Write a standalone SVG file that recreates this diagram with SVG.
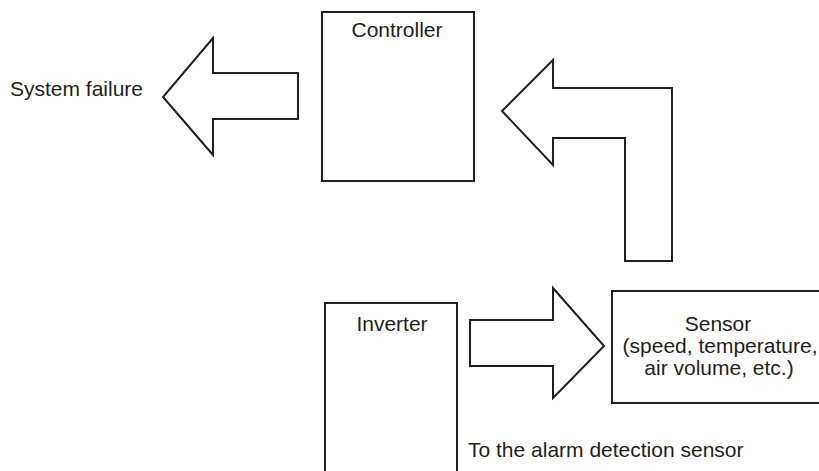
<svg xmlns="http://www.w3.org/2000/svg" width="819" height="471" viewBox="0 0 819 471">
<style>
.box{fill:#fff;stroke:#231f20;stroke-width:2}
.arr{fill:#fff;stroke:#231f20;stroke-width:2;stroke-linejoin:miter}
text{font-family:"Liberation Sans",Arial,sans-serif;font-size:21px;fill:#231f20}
.c{text-anchor:middle}
</style>
<rect width="819" height="471" fill="#fff"/>
<g id="controller">
<rect class="box" x="322" y="12" width="152" height="169"/>
<text class="c" x="397" y="37">Controller</text>
</g>
<g id="inverter">
<rect class="box" x="325" y="303" width="132" height="180"/>
<text class="c" x="392" y="331">Inverter</text>
</g>
<g id="sensor">
<rect class="box" x="612" y="291" width="215" height="112"/>
<text class="c" x="718" y="331">Sensor</text>
<text class="c" x="720" y="353">(speed, temperature,</text>
<text class="c" x="719" y="375">air volume, etc.)</text>
</g>
<g id="system-failure">
<text x="10" y="96">System failure</text>
</g>
<g id="alarm-label">
<text x="468" y="457">To the alarm detection sensor</text>
</g>
<g id="connectors">
<polygon class="arr" points="298,73 213,73 213,38 163,97 213,155 213,119 298,119"/>
<polygon class="arr" points="672,261 672,88 553,88 553,60 502,111 553,165 553,138 625,138 625,261"/>
<polygon class="arr" points="470,320 553,320 553,288 604,346 553,398 553,366 470,366"/>
</g>
</svg>
